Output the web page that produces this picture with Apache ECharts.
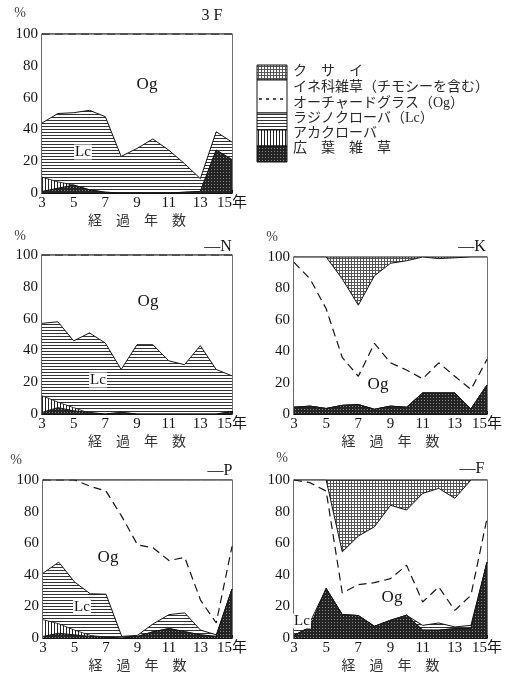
<!DOCTYPE html>
<html>
<head>
<meta charset="utf-8">
<script src="https://cdn.jsdelivr.net/npm/echarts@6/dist/echarts.min.js"></script>
</head>
<body style="margin:0;background:#fff">
<div id="container" style="width:516px;height:678px"></div>
<script>
// years since sowing (経過年数)
var years = [3, 4, 5, 6, 7, 8, 9, 10, 11, 12, 13, 14, 15];

// upper edge (cumulative %) of each layer
// 3F
var f3Broad = [1, 3, 5, 2, 0.5, 0, 0, 0, 0, 0.5, 1, 27, 21];
var f3Aka   = [10, 7, 5, 2, 0.5, 0, 0, 0, 0, 0.5, 1, 27, 21];
var f3Lc    = [44, 50, 50.5, 52, 48, 23, 28, 34, 27, 18.5, 9, 38.5, 32];
var f3Og    = [100, 100, 100, 100, 100, 100, 100, 100, 100, 100, 100, 100, 100];
var f3Weed  = [100, 100, 100, 100, 100, 100, 100, 100, 100, 100, 100, 100, 100];
// -N
var nBroad = [1, 4, 2, 1, 0, 1, 0, 0, 0, 0, 0, 0, 1.5];
var nAka   = [11.5, 7.5, 4, 0.5, 0, 1, 0, 0, 0, 0, 0, 0, 1.5];
var nLc    = [57, 58, 46, 51, 44.6, 28, 43.6, 43.6, 33.5, 31, 43, 28, 24];
var nOg    = [100, 100, 100, 100, 100, 100, 100, 100, 100, 100, 100, 100, 100];
var nWeed  = [100, 100, 100, 100, 100, 100, 100, 100, 100, 100, 100, 100, 100];
// -K
var kBroad = [4.3, 5, 3.5, 5.5, 6, 3, 5, 4.3, 13.4, 13.4, 13.4, 3.2, 18.5];
var kAka   = [4.3, 5, 3.5, 5.5, 6, 3, 5, 4.3, 13.4, 13.4, 13.4, 3.2, 18.5];
var kLc    = [4.3, 5, 3.5, 5.5, 6, 3, 5, 4.3, 13.4, 13.4, 13.4, 3.2, 18.5];
var kOg    = [96.6, 86, 67, 36, 24, 45, 32.6, 28, 22.4, 32.6, 24, 15.6, 34.8];
var kWeed  = [100, 100, 100, 86, 69.3, 88, 96, 97.6, 100, 99, 99.5, 100, 100];
// -P
var pBroad = [1, 3, 2, 1, 0.5, 0, 1, 4, 6, 4, 2, 1, 31];
var pAka   = [11.6, 9, 5, 1.7, 0.5, 0, 1, 4, 6, 4, 2, 1, 31];
var pLc    = [41, 48, 35.5, 28, 27.7, 1, 1.7, 9, 14.8, 15.9, 5, 2, 31];
var pOg    = [100, 100, 100, 96, 93, 77, 59, 57, 49, 51, 24, 9.5, 58];
var pWeed  = [100, 100, 100, 100, 100, 100, 100, 100, 100, 100, 100, 100, 100];
// -F
var fBroad = [1.7, 7, 31.3, 14.8, 14.2, 7.4, 11.2, 14.4, 5, 5, 6, 6, 48];
var fAka   = [1.7, 7, 31.3, 14.8, 14.2, 7.4, 11.2, 14.4, 5, 5, 6, 6, 48];
var fLc    = [11, 10, 31.3, 14.8, 14.2, 7.4, 11.2, 14.4, 8, 9.5, 7, 8, 48];
var fOg    = [100, 98.3, 93, 28.5, 33.8, 35, 37.6, 46, 22.8, 32.3, 17.5, 27, 75.7];
var fWeed  = [100, 100, 100, 54.5, 64.5, 70.4, 84, 81, 91.5, 94.7, 88.4, 100, 100];

var legendNames = ['ク　サ　イ', 'イネ科雑草（チモシーを含む）', 'オーチャードグラス（Og）',
                   'ラジノクローバ（Lc）', 'アカクローバ', '広　葉　雑　草'];

var serif = "'Liberation Serif','DejaVu Serif','Noto Sans CJK JP',serif";
var ink = '#151515';

function pattern(w, h, draw) {
    var c = document.createElement('canvas');
    c.width = w; c.height = h;
    var g = c.getContext('2d');
    g.fillStyle = '#fff';
    g.fillRect(0, 0, w, h);
    draw(g);
    return { image: c, repeat: 'repeat' };
}
var dotPat = pattern(3, 3, function (g) {
    g.fillStyle = '#555';
    g.fillRect(0, 0, 3, 1);
    g.fillRect(0, 0, 1, 3);
});
var hPat = pattern(4, 3, function (g) {
    g.fillStyle = '#333';
    g.fillRect(0, 0, 4, 1);
});
var vPat = pattern(3, 4, function (g) {
    g.fillStyle = '#222';
    g.fillRect(0, 0, 1, 4);
});
var darkPat = pattern(3, 3, function (g) {
    g.fillStyle = '#232323';
    g.fillRect(0, 0, 3, 3);
    g.fillStyle = '#8a8a8a';
    g.fillRect(1, 1, 1, 1);
});

var panels = [
    { title: '3 F', box: [42, 34, 190, 159], kusai: false,
      broad: f3Broad, aka: f3Aka, lc: f3Lc, og: f3Og, weed: f3Weed,
      pct: [20, 13], tpos: [212, 16], og_at: [147, 85], lc_at: [83, 152] },
    { title: '—N', box: [42, 255, 190, 159], kusai: false,
      broad: nBroad, aka: nAka, lc: nLc, og: nOg, weed: nWeed,
      pct: [20, 236], tpos: [218, 247], og_at: [148, 302], lc_at: [98, 380] },
    { title: '—K', box: [294, 257, 193, 157], kusai: true,
      broad: kBroad, aka: kAka, lc: kLc, og: kOg, weed: kWeed,
      pct: [272, 237], tpos: [472, 247], og_at: [378, 385], lc_at: null },
    { title: '—P', box: [43, 480, 189, 158], kusai: false,
      broad: pBroad, aka: pAka, lc: pLc, og: pOg, weed: pWeed,
      pct: [16, 460], tpos: [220, 471], og_at: [108, 558], lc_at: [82, 607] },
    { title: '—F', box: [294, 480, 193, 158], kusai: true,
      broad: fBroad, aka: fAka, lc: fLc, og: fOg, weed: fWeed,
      pct: [282, 458], tpos: [472, 469], og_at: [392, 598], lc_at: [302, 621] }
];

function pts(arr) {
    return years.map(function (y, i) { return [y, arr[i]]; });
}

var grids = [], xAxes = [], yAxes = [], series = [], graphics = [];

panels.forEach(function (p, i) {
    grids.push({
        left: p.box[0], top: p.box[1], width: p.box[2], height: p.box[3],
        show: true, borderColor: ink, borderWidth: 1.2,
        backgroundColor: p.kusai ? dotPat : '#fff'
    });
    xAxes.push({
        type: 'value', gridIndex: i, min: 3, max: 15, interval: 2,
        axisLine: { show: true, lineStyle: { color: ink, width: 1.2 } },
        axisTick: { inside: true, length: 3, lineStyle: { color: ink } },
        splitLine: { show: false },
        axisLabel: {
            margin: 3, fontSize: 15, color: ink, fontFamily: serif,
            formatter: function (v) { return v === 15 ? '15年' : v; }
        },
        name: '経　過　年　数', nameLocation: 'middle', nameGap: 21,
        nameTextStyle: { fontSize: 14, color: '#333', fontFamily: serif }
    });
    yAxes.push({
        type: 'value', gridIndex: i, min: 0, max: 100, interval: 20,
        axisLine: { show: true, lineStyle: { color: ink, width: 1.2 } },
        axisTick: { show: true, inside: true, length: 3, lineStyle: { color: ink } },
        splitLine: { show: false },
        axisLabel: { margin: 4, fontSize: 15, color: ink, fontFamily: serif }
    });

    var base = { type: 'line', xAxisIndex: i, yAxisIndex: i, symbol: 'none',
                 silent: true, animation: false };
    series.push(Object.assign({}, base, {
        name: 'weed', data: pts(p.weed), z: 2,
        lineStyle: { color: ink, width: 1 },
        areaStyle: { color: '#fff', opacity: 1 }
    }));
    series.push(Object.assign({}, base, {
        name: 'og', data: pts(p.og), z: 3,
        lineStyle: { color: ink, width: 1.2, type: [8, 5] }
    }));
    series.push(Object.assign({}, base, {
        name: 'lc', data: pts(p.lc), z: 4,
        lineStyle: { color: ink, width: 1 },
        areaStyle: { color: hPat, opacity: 1 }
    }));
    series.push(Object.assign({}, base, {
        name: 'aka', data: pts(p.aka), z: 5,
        lineStyle: { color: ink, width: 0.8 },
        areaStyle: { color: vPat, opacity: 1 }
    }));
    series.push(Object.assign({}, base, {
        name: 'broad', data: pts(p.broad), z: 6,
        lineStyle: { color: ink, width: 1 },
        areaStyle: { color: darkPat, opacity: 1 }
    }));

    graphics.push({ type: 'text', x: p.pct[0], y: p.pct[1], z: 100,
        style: { text: '%', fontSize: 14, fill: '#444', fontFamily: serif, align: 'center', verticalAlign: 'middle' } });
    graphics.push({ type: 'text', x: p.tpos[0], y: p.tpos[1], z: 100,
        style: { text: p.title, fontSize: 16, fill: ink, fontFamily: serif, align: 'center', verticalAlign: 'middle' } });
    graphics.push({ type: 'text', x: p.og_at[0], y: p.og_at[1], z: 100,
        style: { text: 'Og', fontSize: 17, fill: ink, fontFamily: serif, align: 'center', verticalAlign: 'middle' } });
    if (p.lc_at) {
        graphics.push({ type: 'text', x: p.lc_at[0], y: p.lc_at[1], z: 100,
            style: { text: 'Lc', fontSize: 15, fill: ink, fontFamily: serif, align: 'center', verticalAlign: 'middle',
                     backgroundColor: '#fff', padding: [0, 1] } });
    }
});

// legend key drawn as a column of swatches
var lx = 257, lw = 30;
var swatches = [
    { y: 65, h: 15, fill: dotPat },
    { y: 80, h: 33, fill: '#fff' },
    { y: 113, h: 17, fill: hPat },
    { y: 130, h: 16, fill: vPat },
    { y: 146, h: 16, fill: darkPat }
];
swatches.forEach(function (s) {
    graphics.push({ type: 'rect', shape: { x: lx, y: s.y, width: lw, height: s.h }, z: 100,
        style: { fill: s.fill, stroke: ink, lineWidth: 1 } });
});
graphics.push({ type: 'line', shape: { x1: lx + 2, y1: 99, x2: lx + lw - 2, y2: 99 }, z: 101,
    style: { stroke: ink, lineWidth: 1.5, lineDash: [3, 4] } });
var textRows = [71, 87, 103, 118, 133, 148];
legendNames.forEach(function (t, k) {
    graphics.push({ type: 'text', x: 293, y: textRows[k], z: 100,
        style: { text: t, fontSize: 14, fill: '#2a2a2a', fontFamily: serif, verticalAlign: 'middle' } });
});

var myChart = echarts.init(document.getElementById('container'));
myChart.setOption({
    backgroundColor: '#fff',
    animation: false,
    grid: grids,
    xAxis: xAxes,
    yAxis: yAxes,
    series: series,
    graphic: graphics
});
</script>
</body>
</html>
